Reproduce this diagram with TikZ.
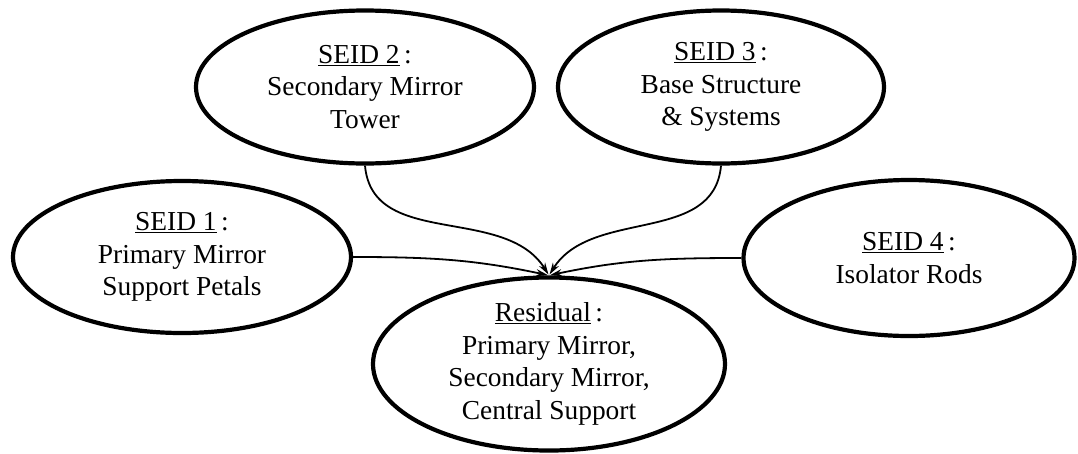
\documentclass[tikz,border=0pt]{standalone}
\usepackage{fontspec}
\setmainfont{Liberation Serif}
\usetikzlibrary{shapes.geometric}
\usetikzlibrary{arrows.meta}
\def\seid#1{\underline{#1}\,:}

\begin{document}
\begin{tikzpicture}[>={Stealth[length=12pt,width=7pt]},x=1pt,y=-1pt,font=\fontsize{27.4}{32.5}\selectfont]
	\useasboundingbox (0,0) rectangle (1078,453);
	\tikzset{part/.style={ellipse,draw=black,line width=4.2pt,inner sep=0pt,align=center,fill=white}}
	\tikzset{link/.style={->,line width=1.8pt,shorten >=1pt}}

	\node [part,minimum width=338,minimum height=152] at (182,257) (s1) {\seid{SEID 1}\\Primary Mirror\\Support Petals};
	\node [part,minimum width=338,minimum height=153] at (365,87) (s2) {\seid{SEID 2}\\Secondary Mirror\\Tower};
	\node [part,minimum width=326,minimum height=153] at (721,87) (s3) {\seid{SEID 3}\\Base Structure\\\& Systems};
	\node [part,minimum width=331,minimum height=156] at (909,258) (s4) {\seid{SEID 4}\\Isolator Rods};
	\node [part,minimum width=352,minimum height=170] at (549,364) (res) {\seid{Residual}\\Primary Mirror,\\Secondary Mirror,\\Central Support};

	\draw [link] (s1.east) to[out=0,in=168] (res.north);
	\draw [link] (s4.west) to[out=180,in=12] (res.north);
	\draw [link] (s2.south) to[out=-85,in=122] (res.north);
	\draw [link] (s3.south) to[out=-95,in=58] (res.north);

\end{tikzpicture}
\end{document}
